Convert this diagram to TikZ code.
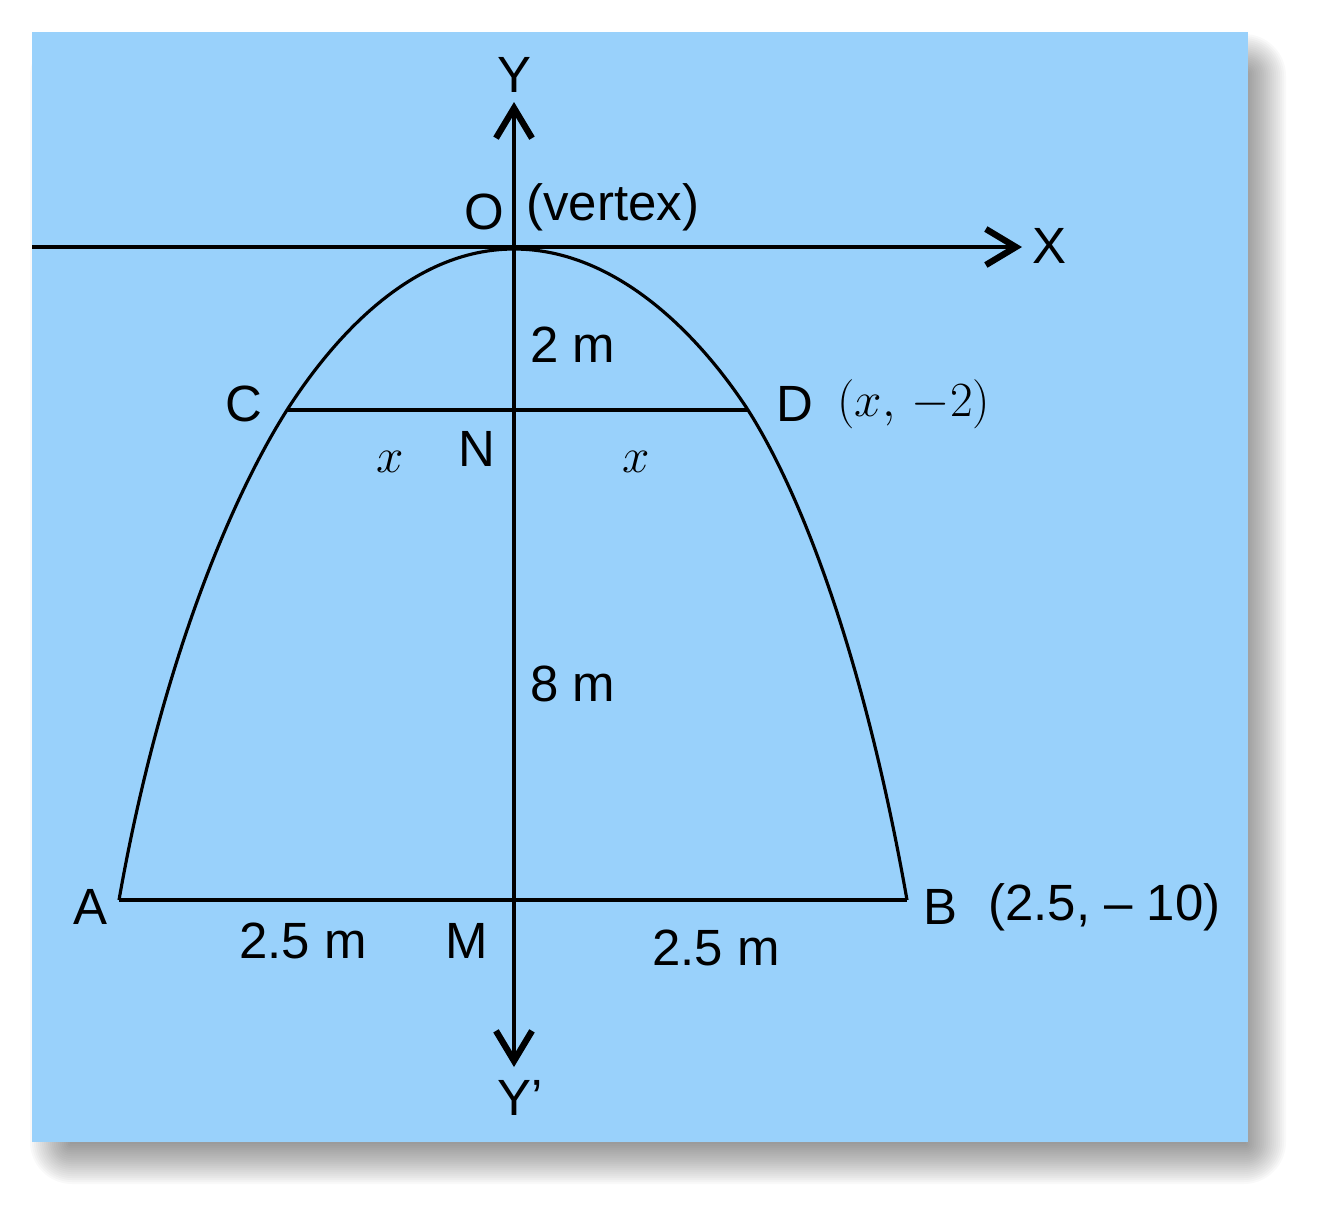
\RequirePackage{fix-cm}
\documentclass[tikz,border=0pt]{standalone}
\usepackage{fontspec}
\setmainfont{Liberation Sans}
\usetikzlibrary{arrows.meta}
\definecolor{skyblue}{RGB}{153,209,251}

\begin{document}
\begin{tikzpicture}[x=0.02cm, y=-0.02cm,
    axis/.style ={line width=1.9pt},
    barb/.tip ={Straight Barb[length=0.6cm, width=0.72cm, line width=3.6pt]},
    curve/.style ={line width=1.8pt, line join=round},
    lbl/.style ={font=\fontsize{29}{34}\selectfont, inner sep=0pt},
    mth/.style ={font=\fontsize{28}{33}\selectfont, inner sep=0pt}]
   \useasboundingbox (0,0) rectangle (1319,1208);
   % shadow and panel
   \foreach \s in {0,2,...,40}
      \fill[black, opacity=0.024, rounded corners={\s*0.6pt}]
         (70-\s,74-\s) rectangle (1246+\s,1144+\s);
   \fill[skyblue] (32,32) rectangle (1248,1142);
   % points
   \coordinate (O) at (514,249);
   \coordinate (C) at (287,410);
   \coordinate (D) at (748,410);
   \coordinate (N) at (514,410);
   \coordinate (A) at (119,900);
   \coordinate (B) at (907,900);
   \coordinate (M) at (514,900);
   \coordinate (Xl) at (32,247);
   \coordinate (Xr) at (1022,247);
   \coordinate (Yt) at (514,102);
   \coordinate (Yb) at (514,1067);
   % axes
   \draw[axis, -barb] (Xl) to (Xr);
   \draw[axis, barb-barb] (Yb) to (Yt);
   % chords
   \draw[axis] (C) to (D);
   \draw[axis] (A) to (B);
   % parabola
   \draw[curve] (A) .. controls (159,673) and (228,503) .. (C)
      .. controls (332,340) and (410,249) .. (O)
      .. controls (618,249) and (701,338) .. (D)
      .. controls (807,503) and (867,673) .. (B);
   % labels
   \node[lbl] (Ylab) at (514,75) {Y};
   \node[lbl] (Olab) at (484,212) {O};
   \node[lbl, anchor=west] (vert) at (526,207) {(vertex)};
   \node[lbl] (Xlab) at (1049,246) {X};
   \node[lbl] (two) at (573,345) {2 m};
   \node[lbl] (Clab) at (244,404) {C};
   \node[lbl] (Dlab) at (795,404) {D};
   \node[mth, anchor=west] (Dco) at (837,404) {$(x,\,{-}2)$};
   \node[lbl] (Nlab) at (477,449) {N};
   \node[mth] (xl) at (390,462) {$x$};
   \node[mth] (xr) at (636,462) {$x$};
   \node[lbl] (eight) at (573,684) {8 m};
   \node[lbl] (Alab) at (90,907) {A};
   \node[lbl] (Blab) at (940,907) {B};
   \node[lbl, anchor=west] (Bco) at (988,907) {(2.5, – 10)};
   \node[lbl] (lenA) at (303,941) {2.5 m};
   \node[lbl] (Mlab) at (467,941) {M};
   \node[lbl] (lenB) at (716,948) {2.5 m};
   \node[lbl] (Yplab) at (520,1098) {Y’};
\end{tikzpicture}
\end{document}
